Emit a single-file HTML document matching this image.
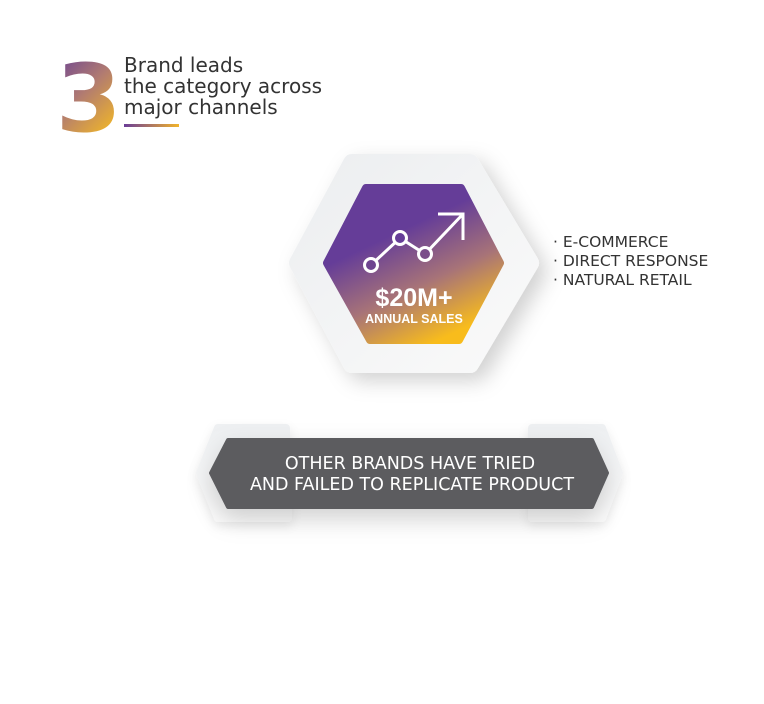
<!DOCTYPE html>
<html><head><meta charset="utf-8"><style>
html,body{margin:0;padding:0;background:#fff;width:764px;height:704px;overflow:hidden}
</style></head><body>
<svg width="764" height="704" viewBox="0 0 764 704" xmlns="http://www.w3.org/2000/svg" font-family="Liberation Sans, sans-serif">
<defs>
<linearGradient id="g3" x1="0" y1="0" x2="0.6" y2="1">
<stop offset="0" stop-color="#5f3a98"/><stop offset="0.5" stop-color="#b07a72"/><stop offset="1" stop-color="#f6bb22"/></linearGradient>
<linearGradient id="gl" x1="0" y1="0" x2="1" y2="0">
<stop offset="0" stop-color="#6a3d98"/><stop offset="1" stop-color="#f2b42a"/></linearGradient>
<linearGradient id="gh" x1="0.3" y1="0.35" x2="0.65" y2="1">
<stop offset="0" stop-color="#653d98"/><stop offset="0.5" stop-color="#a77378"/><stop offset="1" stop-color="#f8bc1c"/></linearGradient>
<linearGradient id="go" x1="0" y1="0" x2="1" y2="1">
<stop offset="0" stop-color="#eceef0"/><stop offset="1" stop-color="#fafafa"/></linearGradient>
<linearGradient id="gs" x1="0" y1="0" x2="0" y2="1">
<stop offset="0" stop-color="#eef0f2"/><stop offset="1" stop-color="#fbfbfb"/></linearGradient>
<filter id="sh" x="-30%" y="-30%" width="160%" height="160%"><feDropShadow dx="8" dy="8" stdDeviation="10" flood-color="#000" flood-opacity="0.18"/></filter>
<filter id="sh2" x="-20%" y="-60%" width="140%" height="220%"><feDropShadow dx="0" dy="10" stdDeviation="12" flood-color="#000" flood-opacity="0.18"/></filter>
<filter id="sh3" x="-30%" y="-30%" width="160%" height="160%"><feDropShadow dx="0" dy="4" stdDeviation="5" flood-color="#000" flood-opacity="0.08"/></filter>
</defs>
<text x="56" y="131" font-size="94" font-weight="bold" fill="url(#g3)" font-family="DejaVu Sans, sans-serif">3</text>
<text font-size="20" fill="#333" font-family="DejaVu Sans, sans-serif"><tspan x="124" y="72">Brand leads</tspan><tspan x="124" y="93">the category across</tspan><tspan x="124" y="114">major channels</tspan></text>
<rect x="124" y="124" width="55" height="3" fill="url(#gl)"/>
<polygon points="218,428 286,428 288,518 218,518 200,473" fill="url(#gs)" stroke="url(#gs)" stroke-linejoin="round" stroke-width="8" filter="url(#sh3)"/>
<polygon points="532,428 602,428 619,473 602,518 532,518" fill="url(#gs)" stroke="url(#gs)" stroke-linejoin="round" stroke-width="8" filter="url(#sh3)"/>
<polygon points="228,440 592,440 607,473 592,507 228,507 211,473" fill="#5b5c5f" stroke="#5b5c5f" stroke-width="4" stroke-linejoin="round" filter="url(#sh2)"/>
<text x="410" y="469" font-size="17.5" fill="#fff" text-anchor="middle" font-family="DejaVu Sans, sans-serif">OTHER BRANDS HAVE TRIED</text>
<text x="412" y="490" font-size="17.5" fill="#fff" text-anchor="middle" font-family="DejaVu Sans, sans-serif">AND FAILED TO REPLICATE PRODUCT</text>
<polygon points="352,163 470,163 530,263 470,364 352,364 298,263" fill="url(#go)" stroke="url(#go)" stroke-width="18" stroke-linejoin="round" filter="url(#sh)"/>
<polygon points="366,188 461,188 500,263 459,340 370,340 327,263" fill="url(#gh)" stroke="url(#gh)" stroke-width="8" stroke-linejoin="round"/>
<g stroke="#fff" stroke-width="3" fill="none">
<polyline points="371,265 400,238 425,254 463,214"/>
<polyline points="438,214 463,214 463,240"/>
<circle cx="371" cy="265" r="6.5" fill="#6e4490"/>
<circle cx="400" cy="238" r="6.5" fill="#653d98"/>
<circle cx="425" cy="254" r="6.5" fill="#7a4d8a"/>
</g>
<text x="414" y="306" font-size="25" font-weight="bold" fill="#fff" text-anchor="middle">$20M+</text>
<text x="414" y="323" font-size="12.5" font-weight="bold" fill="#fff" text-anchor="middle">ANNUAL SALES</text>
<text font-size="15.5" fill="#333" font-family="DejaVu Sans, sans-serif"><tspan x="553" y="247">· E-COMMERCE</tspan><tspan x="553" y="266">· DIRECT RESPONSE</tspan><tspan x="553" y="285">· NATURAL RETAIL</tspan></text>
</svg>
</body></html>
